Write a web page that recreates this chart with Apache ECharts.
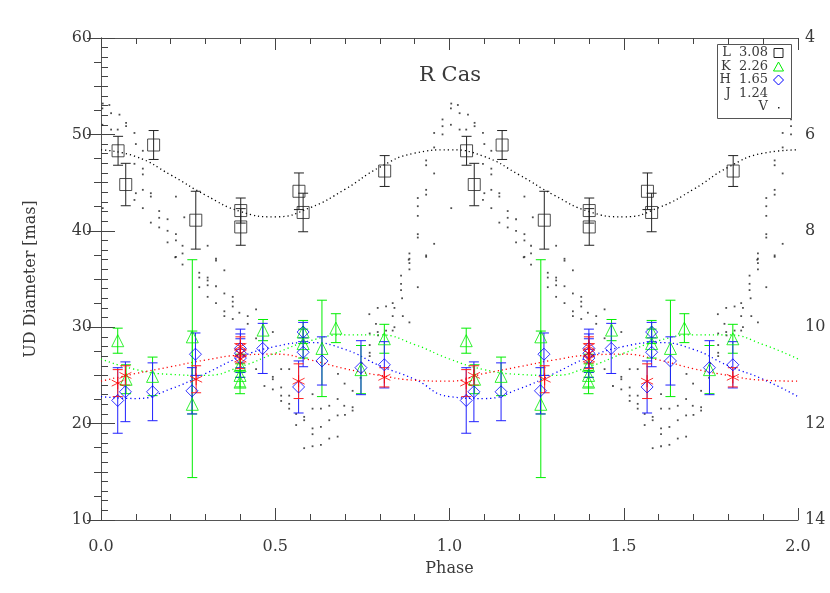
<!DOCTYPE html>
<html><head><meta charset="utf-8">
<script src="https://cdn.jsdelivr.net/npm/echarts@6/dist/echarts.min.js"></script>
<style>html,body{margin:0;padding:0;background:#fff}#c{width:830px;height:593px}</style>
</head><body><div id="c"></div>
<script>
// ---- data (one phase cycle, 0..1); the chart shows it twice (phase 0..2) ----
// [phase, UD diameter (mas), error]
const lPoints = [[0.049,48.3,1.5],[0.071,44.8,2.2],[0.151,48.9,1.5],[0.272,41.1,3.0],[0.401,42.1,1.3],[0.401,40.4,1.9],[0.568,44.1,1.9],[0.580,41.9,2.0],[0.814,46.2,1.6]];
const kPoints = [[0.048,28.6,1.3],[0.072,24.6,1.5],[0.148,24.9,2.0],[0.262,29.0,8.0],[0.262,22.0,7.6],[0.399,26.0,1.2],[0.399,25.0,1.2],[0.399,24.3,1.2],[0.465,29.7,1.1],[0.580,29.5,1.2],[0.580,28.3,1.5],[0.634,27.8,5.0],[0.674,29.9,1.5],[0.746,25.6,2.5],[0.813,28.8,1.5]];
const hPoints = [[0.048,22.4,3.4],[0.070,23.3,3.1],[0.148,23.3,3.0],[0.271,27.2,2.2],[0.261,23.4,2.4],[0.400,27.8,2.0],[0.400,27.3,2.0],[0.400,26.8,2.0],[0.464,27.8,2.6],[0.580,29.5,1.0],[0.580,27.4,1.5],[0.567,23.8,2.7],[0.634,26.5,2.5],[0.746,25.8,2.8],[0.813,26.1,2.4]];
const jPoints = [[0.048,24.2,1.4],[0.070,25.0,1.0],[0.273,24.6,1.4],[0.400,28.0,1.0],[0.400,27.3,1.0],[0.400,26.7,1.0],[0.567,24.4,1.8],[0.813,24.8,1.0]];
// fitted curves read at phase 0,0.1,...,1.0
const fitPhase = [0,0.1,0.2,0.3,0.4,0.5,0.6,0.7,0.8,0.9,1.0];
const lFit = [48.4,47.7,45.8,43.7,42.0,41.45,42.4,44.3,46.6,48.05,48.4];
const kFit = [26.7,25.6,25.1,25.0,25.9,27.3,28.6,29.2,29.2,28.2,26.7];
const hFit = [22.8,22.6,23.6,25.2,26.9,28.0,28.4,27.7,26.0,24.6,22.8];
const jFit = [24.4,25.2,25.9,26.6,27.1,27.2,26.6,25.7,25.0,24.5,24.4];
// V light curve [phase, V mag]
const vPoints = [[0.005,5.36],[0.024,5.39],[0.029,5.56],[0.053,5.59],[0.072,5.76],[0.072,5.83],[0.029,5.90],[0.048,5.90],[0.096,5.97],[0.100,6.20],[0.120,6.34],[0.096,6.61],[0.120,6.71],[0.120,6.83],[0.100,7.22],[0.120,7.15],[0.143,7.22],[0.143,7.29],[0.096,7.36],[0.120,7.53],[0.167,7.59],[0.143,7.83],[0.167,7.73],[0.167,7.93],[0.191,7.76],[0.191,8.00],[0.215,8.07],[0.215,8.20],[0.191,8.24],[0.234,8.31],[0.234,8.47],[0.215,8.54],[0.239,7.72],[0.215,7.29],[0.306,8.31],[0.330,8.58],
[0.004,5.46],[0.980,5.69],[0.980,5.83],[0.004,5.80],[0.956,5.97],[0.980,6.00],[0.956,6.27],[0.933,6.54],[0.933,6.64],[0.956,6.81],[0.933,7.15],[0.933,7.25],[0.909,7.32],[0.909,7.49],[0.005,7.53],[0.909,7.69],[0.909,8.07],[0.909,8.14],[0.956,8.27],[0.885,8.47],[0.933,8.54],[0.885,8.58],
[0.213,8.55],[0.234,8.70],[0.282,8.87],[0.282,8.97],[0.306,8.97],[0.306,9.03],[0.330,8.62],[0.354,8.82],[0.282,9.17],[0.306,9.13],[0.330,9.15],[0.354,9.30],[0.306,9.37],[0.330,9.50],[0.354,9.67],[0.354,9.77],[0.378,9.37],[0.378,9.47],[0.378,9.57],[0.378,9.83],[0.397,9.70],[0.421,9.77],[0.445,9.63],[0.421,9.93],[0.445,10.23],[0.493,10.10],[0.445,10.87],[0.493,11.03],[0.517,10.87],[0.540,10.87],
[0.883,8.60],[0.885,8.67],[0.933,8.51],[0.885,8.80],[0.861,8.93],[0.861,9.10],[0.909,9.17],[0.861,9.23],[0.837,9.50],[0.842,9.60],[0.866,9.77],[0.885,9.90],[0.837,9.77],[0.770,9.73],[0.789,9.93],[0.794,10.10],[0.818,10.07],[0.837,10.07],[0.794,9.60],[0.818,9.57],
[0.864,9.40],[0.771,10.13],[0.795,10.17],[0.771,10.37],[0.771,10.53],[0.771,10.60],[0.842,10.00],[0.699,11.17],[0.680,10.97],[0.745,11.05],[0.748,10.75],
[0.469,11.22],[0.493,11.08],[0.493,11.29],[0.517,11.25],[0.517,11.42],[0.517,11.53],[0.540,11.42],[0.540,11.59],[0.540,11.69],[0.560,11.80],[0.560,12.03],[0.583,11.86],[0.583,11.93],[0.607,11.39],[0.607,11.69],[0.607,12.10],[0.607,12.22],[0.583,12.51],[0.607,12.47],[0.631,11.69],[0.631,12.07],[0.631,12.44],[0.655,11.63],[0.655,11.93],[0.655,12.31],[0.679,11.49],[0.679,11.83],[0.679,12.27],[0.698,11.63],[0.700,11.82],[0.722,11.32],[0.722,11.66],[0.722,11.73]];
const xTicks = {min:0, max:2, interval:0.5};
const legendRows = [['L  3.08','L'],['K  2.26','K'],['H  1.65','H'],['J  1.24','J'],['V','V']];

// ---- helpers ----
function twoCycles(arr){ return arr.concat(arr.map(p => [p[0]+1].concat(p.slice(1)))); }
function fitLine(vals){ const pts=[]; for(let c=0;c<2;c++){ for(let i=0;i<vals.length;i++){ if(c===1&&i===0) continue; pts.push([fitPhase[i]+c, vals[i]]); } } return pts; }
const FONT = 'DejaVu Serif';
const TXT = '#3a3a3a';
const AST = 'path://M5,0L5,10M0.67,2.5L9.33,7.5M0.67,7.5L9.33,2.5';
function errSeries(data, color){
  return {type:'custom', xAxisIndex:0, yAxisIndex:0, data: twoCycles(data), encode:{x:0,y:1}, z:3, silent:true,
    renderItem:(params, api)=>{
      const x=api.value(0), y=api.value(1), e=api.value(2);
      const t=api.coord([x,y+e]), b=api.coord([x,y-e]); const w=5;
      const st={stroke:color,lineWidth:1};
      return {type:'group', children:[
        {type:'line', shape:{x1:t[0],y1:t[1],x2:b[0],y2:b[1]}, style:st},
        {type:'line', shape:{x1:t[0]-w,y1:t[1],x2:t[0]+w,y2:t[1]}, style:st},
        {type:'line', shape:{x1:b[0]-w,y1:b[1],x2:b[0]+w,y2:b[1]}, style:st}]};
    }};
}
function markSeries(data, symbol, size, color){
  return {type:'scatter', xAxisIndex:0, yAxisIndex:0, data: twoCycles(data).map(p=>[p[0],p[1]]), symbol, symbolSize:size, z:4, silent:true,
    itemStyle:{color:'rgba(0,0,0,0)', borderColor:color, borderWidth:1}};
}
function fitSeries(vals, color){
  return {type:'line', xAxisIndex:0, yAxisIndex:0, data: fitLine(vals), smooth:true, showSymbol:false, symbol:'none', z:2, silent:true,
    lineStyle:{color, width:1.3, type:[1.2,3]}};
}

const tickStyle = {color:'#444'};
const axisLine = {show:true, lineStyle:{color:'#555', width:1}};
const option = {
  animation:false,
  backgroundColor:'#fff',
  grid:{left:101, right:32, top:38, bottom:73},
  xAxis:[
    {type:'value', min:xTicks.min, max:xTicks.max, interval:xTicks.interval, position:'bottom',
     axisLine, axisTick:{show:true, inside:true, length:12, lineStyle:tickStyle},
     minorTick:{show:true, splitNumber:5, length:6, lineStyle:tickStyle},
     splitLine:{show:false},
     axisLabel:{margin:19, fontFamily:FONT, fontSize:16, color:TXT, formatter:v=>v.toFixed(1)},
     name:'Phase', nameLocation:'middle', nameGap:41, nameTextStyle:{fontFamily:FONT, fontSize:16, color:TXT}},
    {type:'value', min:xTicks.min, max:xTicks.max, interval:xTicks.interval, position:'top',
     axisLine, axisTick:{show:true, inside:true, length:12, lineStyle:tickStyle},
     minorTick:{show:true, splitNumber:5, length:6, lineStyle:tickStyle},
     splitLine:{show:false}, axisLabel:{show:false}}
  ],
  yAxis:[
    {type:'value', min:10, max:60, interval:10, position:'left',
     axisLine, axisTick:{show:true, inside:true, length:14, lineStyle:tickStyle},
     minorTick:{show:true, splitNumber:10, length:7, lineStyle:tickStyle},
     splitLine:{show:false},
     axisLabel:{margin:9, fontFamily:FONT, fontSize:16, color:TXT},
     name:'UD Diameter [mas]', nameLocation:'middle', nameGap:62, nameRotate:90,
     nameTextStyle:{fontFamily:FONT, fontSize:16, color:TXT}},
    {type:'value', min:4, max:14, interval:2, inverse:true, position:'right',
     axisLine, axisTick:{show:true, inside:true, length:14, lineStyle:tickStyle},
     minorTick:{show:true, splitNumber:4, length:7, lineStyle:tickStyle},
     splitLine:{show:false},
     axisLabel:{margin:7, fontFamily:FONT, fontSize:16, color:TXT}}
  ],
  series:[
    {type:'scatter', xAxisIndex:0, yAxisIndex:1, data: twoCycles(vPoints), symbol:'rect', symbolSize:1.8, z:1, silent:true, itemStyle:{color:'#222'}},
    fitSeries(lFit,'#000'), fitSeries(kFit,'#00ff00'), fitSeries(hFit,'#0000ff'), fitSeries(jFit,'#ff0000'),
    errSeries(lPoints,'#222'), errSeries(kPoints,'#00ee00'), errSeries(hPoints,'#2020ff'), errSeries(jPoints,'#ff2020'),
    markSeries(lPoints,'rect',12,'#222'), markSeries(kPoints,'triangle',12,'#00ee00'),
    markSeries(hPoints,'diamond',12,'#0000ff'), markSeries(jPoints,AST,12,'#ff0000')
  ],
  graphic:[]
};
// title and legend box
option.graphic.push({type:'text', x:450, y:76, style:{text:'R Cas', fontFamily:FONT, fontSize:21, fill:TXT, textAlign:'center', textVerticalAlign:'middle'}});
option.graphic.push({type:'rect', shape:{x:717.5, y:44.5, width:74, height:74}, style:{fill:'#fff', stroke:'#555', lineWidth:1}, z:10});
const legendY = [53,67,80,94,107];
function ln(x1,y1,x2,y2,c){ return {type:'line', shape:{x1,y1,x2,y2}, style:{stroke:c, lineWidth:1}}; }
const sym = {
  L:(y)=>({type:'rect', shape:{x:774, y:y-4.5, width:9, height:9}, style:{fill:'none', stroke:'#222', lineWidth:1}}),
  K:(y)=>({type:'polygon', shape:{points:[[778.5,y-5],[773.5,y+4],[783.5,y+4]]}, style:{fill:'none', stroke:'#00ee00', lineWidth:1}}),
  H:(y)=>({type:'polygon', shape:{points:[[778.5,y-5],[783.5,y],[778.5,y+5],[773.5,y]]}, style:{fill:'none', stroke:'#0000ff', lineWidth:1}}),
  J:(y)=>({type:'group', children:[ln(778.5,y-5,778.5,y+5,'#ff0000'), ln(774.2,y-2.5,782.8,y+2.5,'#ff0000'), ln(774.2,y+2.5,782.8,y-2.5,'#ff0000')]}),
  V:(y)=>({type:'rect', shape:{x:778, y:y, width:1.5, height:1.5}, style:{fill:'#222'}})
};
legendRows.forEach((r,i)=>{
  option.graphic.push({type:'text', x:768, y:legendY[i], z:11, style:{text:r[0], fontFamily:FONT, fontSize:13, fill:TXT, textAlign:'right', textVerticalAlign:'middle'}});
  const g = sym[r[1]](legendY[i]); g.z = 11; option.graphic.push(g);
});
const chart = echarts.init(document.getElementById('c'), null, {renderer:'canvas'});
chart.setOption(option);
</script></body></html>
